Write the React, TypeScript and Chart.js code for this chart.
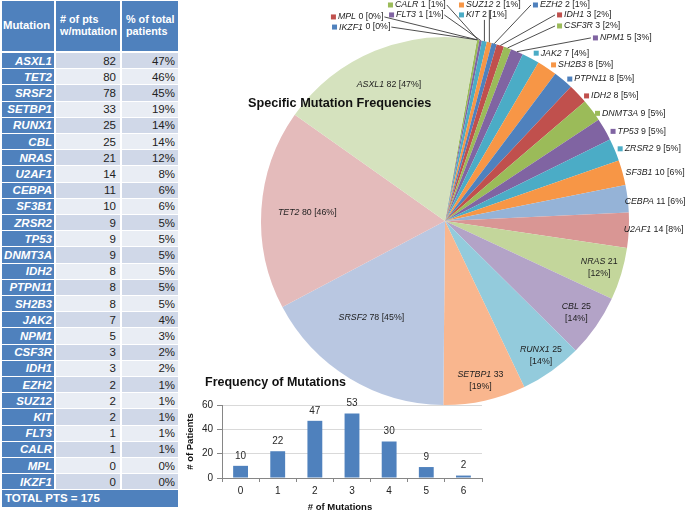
import React, { useEffect, useRef } from 'react';
import { Chart, registerables } from 'chart.js';

Chart.register(...registerables);

const FONT = '"Liberation Sans", Arial, Helvetica, sans-serif';
Chart.defaults.font.family = FONT;

// ---------- data ----------
const genes = ['ASXL1', 'TET2', 'SRSF2', 'SETBP1', 'RUNX1', 'CBL', 'NRAS', 'U2AF1', 'CEBPA', 'SF3B1', 'ZRSR2', 'TP53', 'DNMT3A', 'IDH2', 'PTPN11', 'SH2B3', 'JAK2', 'NPM1', 'CSF3R', 'IDH1', 'EZH2', 'SUZ12', 'KIT', 'FLT3', 'CALR', 'MPL', 'IKZF1'];
const patients = [82, 80, 78, 33, 25, 25, 21, 14, 11, 10, 9, 9, 9, 8, 8, 8, 7, 5, 3, 3, 2, 2, 2, 1, 1, 0, 0];
const percents = [47, 46, 45, 19, 14, 14, 12, 8, 6, 6, 5, 5, 5, 5, 5, 5, 4, 3, 2, 2, 1, 1, 1, 1, 1, 0, 0];
const totalPatients = 175;

const mutationCounts = ['0', '1', '2', '3', '4', '5', '6'];
const patientsByCount = [10, 22, 47, 53, 30, 9, 2];

const tableHeaders = ['Mutation', '# of pts\nw/mutation', '% of total\npatients'];
const pieTitle = 'Specific Mutation Frequencies';
const barTitle = 'Frequency of Mutations';
const barXTitle = '# of Mutations';
const barYTitle = '# of Patients';

// ---------- styles (table order) ----------
const sliceColors = [
  '#D5E2BE', '#E4BBBB', '#B9C7E1', '#F9B68E', '#93CBDC', '#B3A3C7', '#C3D69B', '#D99694', '#95B3D7',
  '#F79646', '#4BACC6', '#8064A2', '#9BBB59', '#C0504D', '#4F81BD', '#F79646', '#4BACC6', '#8064A2',
  '#9BBB59', '#C0504D', '#4F81BD', '#F79646', '#4BACC6', '#8064A2', '#9BBB59', '#C0504D', '#4F81BD',
];

// label placement: 'in' (one line inside), 'in2' (two lines inside), 'edge' (text at rim),
// 'key' (square + text at rim), 'lead' (square + text at given spot, with leader line)
const labelPlacement: any[] = [
  { mode: 'in', f: 0.8 },
  { mode: 'in', f: 0.75 },
  { mode: 'in', f: 0.66, da: 6 },
  { mode: 'in2', f: 0.89 },
  { mode: 'in2', f: 0.9 },
  { mode: 'in2', f: 0.87 },
  { mode: 'in2', f: 0.875 },
  { mode: 'edge', dx: -5, dy: -1 },
  { mode: 'edge', dx: -3, dy: 3 },
  { mode: 'edge', dx: 3, dy: 0 },
  { mode: 'key', dx: 3, dy: -1 },
  { mode: 'key', dx: 6, dy: 2 },
  { mode: 'key', dx: 3, dy: 3 },
  { mode: 'key', dx: 6, dy: 2 },
  { mode: 'key', dx: 4, dy: -1 },
  { mode: 'key', dx: 4, dy: -3 },
  { mode: 'key', dx: 3, dy: -5 },
  { mode: 'lead', x: 0.804, y: -0.995 },
  { mode: 'lead', x: 0.609, y: -1.06 },
  { mode: 'lead', x: 0.609, y: -1.12 },
  { mode: 'lead', x: 0.478, y: -1.174 },
  { mode: 'lead', x: 0.076, y: -1.174 },
  { mode: 'lead', x: 0.076, y: -1.12 },
  { mode: 'lead', x: -0.304, y: -1.12 },
  { mode: 'lead', x: -0.31, y: -1.174 },
  { mode: 'lead', x: -0.62, y: -1.109 },
  { mode: 'lead', x: -0.614, y: -1.054 },
];

// pie draws clockwise from the smallest to the largest
const pieOrder = genes.map((_, i) => genes.length - 1 - i);

const LBL = 8.8;
const italicFont = `italic ${LBL}px ${FONT}`;
const regFont = `${LBL}px ${FONT}`;

function drawMixed(ctx: CanvasRenderingContext2D, x: number, y: number, ital: string, rest: string, align: 'left' | 'center') {
  ctx.font = italicFont;
  const w1 = ctx.measureText(ital).width;
  ctx.font = regFont;
  const w2 = ctx.measureText(rest).width;
  const x0 = align === 'center' ? x - (w1 + w2) / 2 : x;
  ctx.textAlign = 'left';
  ctx.font = italicFont;
  ctx.fillText(ital, x0, y);
  ctx.font = regFont;
  ctx.fillText(rest, x0 + w1, y);
  return w1 + w2;
}

function mixedWidth(ctx: CanvasRenderingContext2D, ital: string, rest: string) {
  ctx.font = italicFont;
  const w1 = ctx.measureText(ital).width;
  ctx.font = regFont;
  return w1 + ctx.measureText(rest).width;
}

const pieLabelsPlugin = {
  id: 'pieLabels',
  afterDatasetsDraw(chart: any) {
    const ctx: CanvasRenderingContext2D = chart.ctx;
    const meta = chart.getDatasetMeta(0);
    ctx.save();
    ctx.textBaseline = 'middle';
    const first = meta.data[0];
    const cx = first.x;
    const cy = first.y;
    const R = first.outerRadius;

    // title
    ctx.fillStyle = '#111';
    ctx.font = `bold 12.7px ${FONT}`;
    ctx.textAlign = 'left';
    ctx.fillText(pieTitle, cx - 197, cy - 118);

    meta.data.forEach((arc: any, j: number) => {
      const i = pieOrder[j];
      const p = labelPlacement[i];
      const mid = (arc.startAngle + arc.endAngle) / 2;
      const gene = genes[i];
      const val = patients[i];
      const pct = percents[i];
      ctx.fillStyle = '#1E1E1E';
      if (p.mode === 'in' || p.mode === 'in2') {
        const a = mid + ((p.da || 0) * Math.PI) / 180;
        const x = cx + Math.cos(a) * R * p.f;
        const y = cy + Math.sin(a) * R * p.f;
        if (p.mode === 'in') {
          drawMixed(ctx, x, y, gene, ` ${val} [${pct}%]`, 'center');
        } else {
          drawMixed(ctx, x, y - 6, gene, ` ${val}`, 'center');
          drawMixed(ctx, x, y + 6, '', `[${pct}%]`, 'center');
        }
        return;
      }
      const ex = cx + Math.cos(mid) * R;
      const ey = cy + Math.sin(mid) * R;
      if (p.mode === 'edge') {
        drawMixed(ctx, ex + p.dx, ey + p.dy, gene, ` ${val} [${pct}%]`, 'left');
        return;
      }
      let sx: number;
      let sy: number;
      if (p.mode === 'key') {
        sx = ex + p.dx;
        sy = ey + p.dy;
      } else {
        sx = cx + p.x * R;
        sy = cy + p.y * R;
        const w = 7 + mixedWidth(ctx, gene, ` ${val} [${pct}%]`);
        let lx: number;
        let ly: number;
        if (ex < sx) {
          lx = sx - 2;
          ly = sy;
        } else if (ex > sx + w) {
          lx = sx + w + 1;
          ly = sy;
        } else {
          lx = ex;
          ly = sy + 5;
        }
        ctx.strokeStyle = '#3A3A3A';
        ctx.lineWidth = 0.9;
        ctx.beginPath();
        ctx.moveTo(lx, ly);
        ctx.lineTo(ex, ey);
        ctx.stroke();
      }
      ctx.fillStyle = sliceColors[i];
      ctx.fillRect(sx, sy - 2.5, 5, 5);
      ctx.fillStyle = '#1E1E1E';
      drawMixed(ctx, sx + 7, sy, gene, ` ${val} [${pct}%]`, 'left');
    });
    ctx.restore();
  },
};

const barDecorPlugin = {
  id: 'barDecor',
  afterDraw(chart: any) {
    const ctx: CanvasRenderingContext2D = chart.ctx;
    const area = chart.chartArea;
    ctx.save();
    ctx.textBaseline = 'middle';
    ctx.fillStyle = '#111';
    ctx.font = `bold 12.5px ${FONT}`;
    ctx.textAlign = 'left';
    ctx.fillText(barTitle, area.left - 17, area.top - 22);

    const meta = chart.getDatasetMeta(0);
    ctx.font = `10px ${FONT}`;
    ctx.textAlign = 'center';
    ctx.fillStyle = '#2A2A2A';
    meta.data.forEach((bar: any, i: number) => {
      ctx.fillText(String(patientsByCount[i]), bar.x, bar.y - 10);
    });

    ctx.fillStyle = '#111';
    ctx.font = `bold 9.5px ${FONT}`;
    ctx.fillText(barXTitle, (area.left + area.right) / 2 - 12, area.bottom + 29);
    ctx.translate(area.left - 32, (area.top + area.bottom) / 2);
    ctx.rotate(-Math.PI / 2);
    ctx.fillText(barYTitle, 0, 0);
    ctx.restore();
  },
};

const BLUE = '#4F81BD';
const ROW_DARK = '#D0D8E8';
const ROW_LIGHT = '#E9EDF4';
const ROW_H = 16.2;
const ROW_TOP = 53;
const COLS = [
  { left: 2, width: 52 },
  { left: 56, width: 64 },
  { left: 122, width: 56 },
];

function MutationTable() {
  const cell = (extra: React.CSSProperties): React.CSSProperties => ({
    position: 'absolute',
    display: 'flex',
    alignItems: 'center',
    boxSizing: 'border-box',
    ...extra,
  });
  return (
    <div style={{ position: 'absolute', left: 0, top: 0, width: 180, height: 514, fontFamily: FONT }}>
      {tableHeaders.map((h, c) => (
        <div
          key={'h' + c}
          style={cell({
            left: COLS[c].left,
            top: 1,
            width: COLS[c].width,
            height: 50,
            background: BLUE,
            color: '#fff',
            fontWeight: 'bold',
            fontSize: c === 0 ? 11.3 : 10.8,
            lineHeight: '11.6px',
            paddingLeft: c === 0 ? 1 : 4,
            whiteSpace: 'pre',
          })}
        >
          {h}
        </div>
      ))}
      {genes.map((g, i) => {
        const top = ROW_TOP + i * ROW_H;
        const bg = i % 2 === 0 ? ROW_DARK : ROW_LIGHT;
        return (
          <React.Fragment key={g}>
            <div
              style={cell({
                left: COLS[0].left,
                top,
                width: COLS[0].width,
                height: ROW_H - 1,
                background: BLUE,
                color: '#fff',
                fontWeight: 'bold',
                fontStyle: 'italic',
                fontSize: 11.5,
                justifyContent: 'flex-end',
                paddingRight: 2,
                whiteSpace: 'nowrap',
              })}
            >
              {g}
            </div>
            <div
              style={cell({
                left: COLS[1].left,
                top,
                width: COLS[1].width,
                height: ROW_H - 1,
                background: bg,
                color: '#222',
                fontSize: 11.5,
                justifyContent: 'flex-end',
                paddingRight: 4,
              })}
            >
              {patients[i]}
            </div>
            <div
              style={cell({
                left: COLS[2].left,
                top,
                width: COLS[2].width,
                height: ROW_H - 1,
                background: bg,
                color: '#222',
                fontSize: 11.5,
                justifyContent: 'flex-end',
                paddingRight: 3,
              })}
            >
              {percents[i] + '%'}
            </div>
          </React.Fragment>
        );
      })}
      <div
        style={cell({
          left: 2,
          top: ROW_TOP + genes.length * ROW_H,
          width: 176,
          height: ROW_H,
          background: BLUE,
          color: '#fff',
          fontWeight: 'bold',
          fontSize: 11.5,
          paddingLeft: 3,
        })}
      >
        {`TOTAL PTS = ${totalPatients}`}
      </div>
    </div>
  );
}

export default function App() {
  const pieRef = useRef<HTMLCanvasElement>(null);
  const barRef = useRef<HTMLCanvasElement>(null);

  useEffect(() => {
    const pie = new Chart(pieRef.current as HTMLCanvasElement, {
      type: 'pie',
      data: {
        labels: pieOrder.map((i) => genes[i]),
        datasets: [
          {
            data: pieOrder.map((i) => patients[i]),
            backgroundColor: pieOrder.map((i) => sliceColors[i]),
            borderWidth: 0,
            hoverOffset: 0,
            offset: 0,
          } as any,
        ],
      },
      options: {
        responsive: false,
        animation: false,
        events: [],
        rotation: 10,
        layout: { padding: { left: 81, top: 37, right: 56, bottom: 109 } },
        plugins: { legend: { display: false }, tooltip: { enabled: false } },
      } as any,
      plugins: [pieLabelsPlugin],
    });

    const bar = new Chart(barRef.current as HTMLCanvasElement, {
      type: 'bar',
      data: {
        labels: mutationCounts,
        datasets: [
          {
            data: patientsByCount,
            backgroundColor: BLUE,
            borderWidth: 0,
            barPercentage: 0.4,
            categoryPercentage: 1,
          },
        ],
      },
      options: {
        responsive: false,
        animation: false,
        events: [],
        layout: { padding: { left: 0, top: 37, right: 18, bottom: 0 } },
        plugins: { legend: { display: false }, tooltip: { enabled: false } },
        scales: {
          x: {
            grid: { drawOnChartArea: false, drawTicks: true, tickLength: 4, tickColor: '#868686', offset: true },
            border: { display: true, color: '#868686' },
            ticks: { color: '#222', font: { size: 10, family: FONT }, padding: 3 },
            afterFit: (s: any) => {
              s.height = 36;
            },
          },
          y: {
            min: 0,
            max: 60,
            grid: { color: '#D9D9D9', tickLength: 5, tickColor: '#868686' },
            border: { display: true, color: '#868686' },
            ticks: { stepSize: 20, color: '#222', font: { size: 10, family: FONT }, padding: 4 },
            afterFit: (s: any) => {
              s.width = 42;
            },
          },
        },
      } as any,
      plugins: [barDecorPlugin],
    });

    return () => {
      pie.destroy();
      bar.destroy();
    };
  }, []);

  return (
    <div style={{ position: 'absolute', left: 0, top: 0, width: 685, height: 514, overflow: 'hidden', background: '#fff', fontFamily: FONT }}>
      <MutationTable />
      <canvas ref={pieRef} width={505} height={514} style={{ position: 'absolute', left: 180, top: 0, width: 505, height: 514 }} />
      <canvas ref={barRef} width={320} height={146} style={{ position: 'absolute', left: 180, top: 368, width: 320, height: 146 }} />
    </div>
  );
}
